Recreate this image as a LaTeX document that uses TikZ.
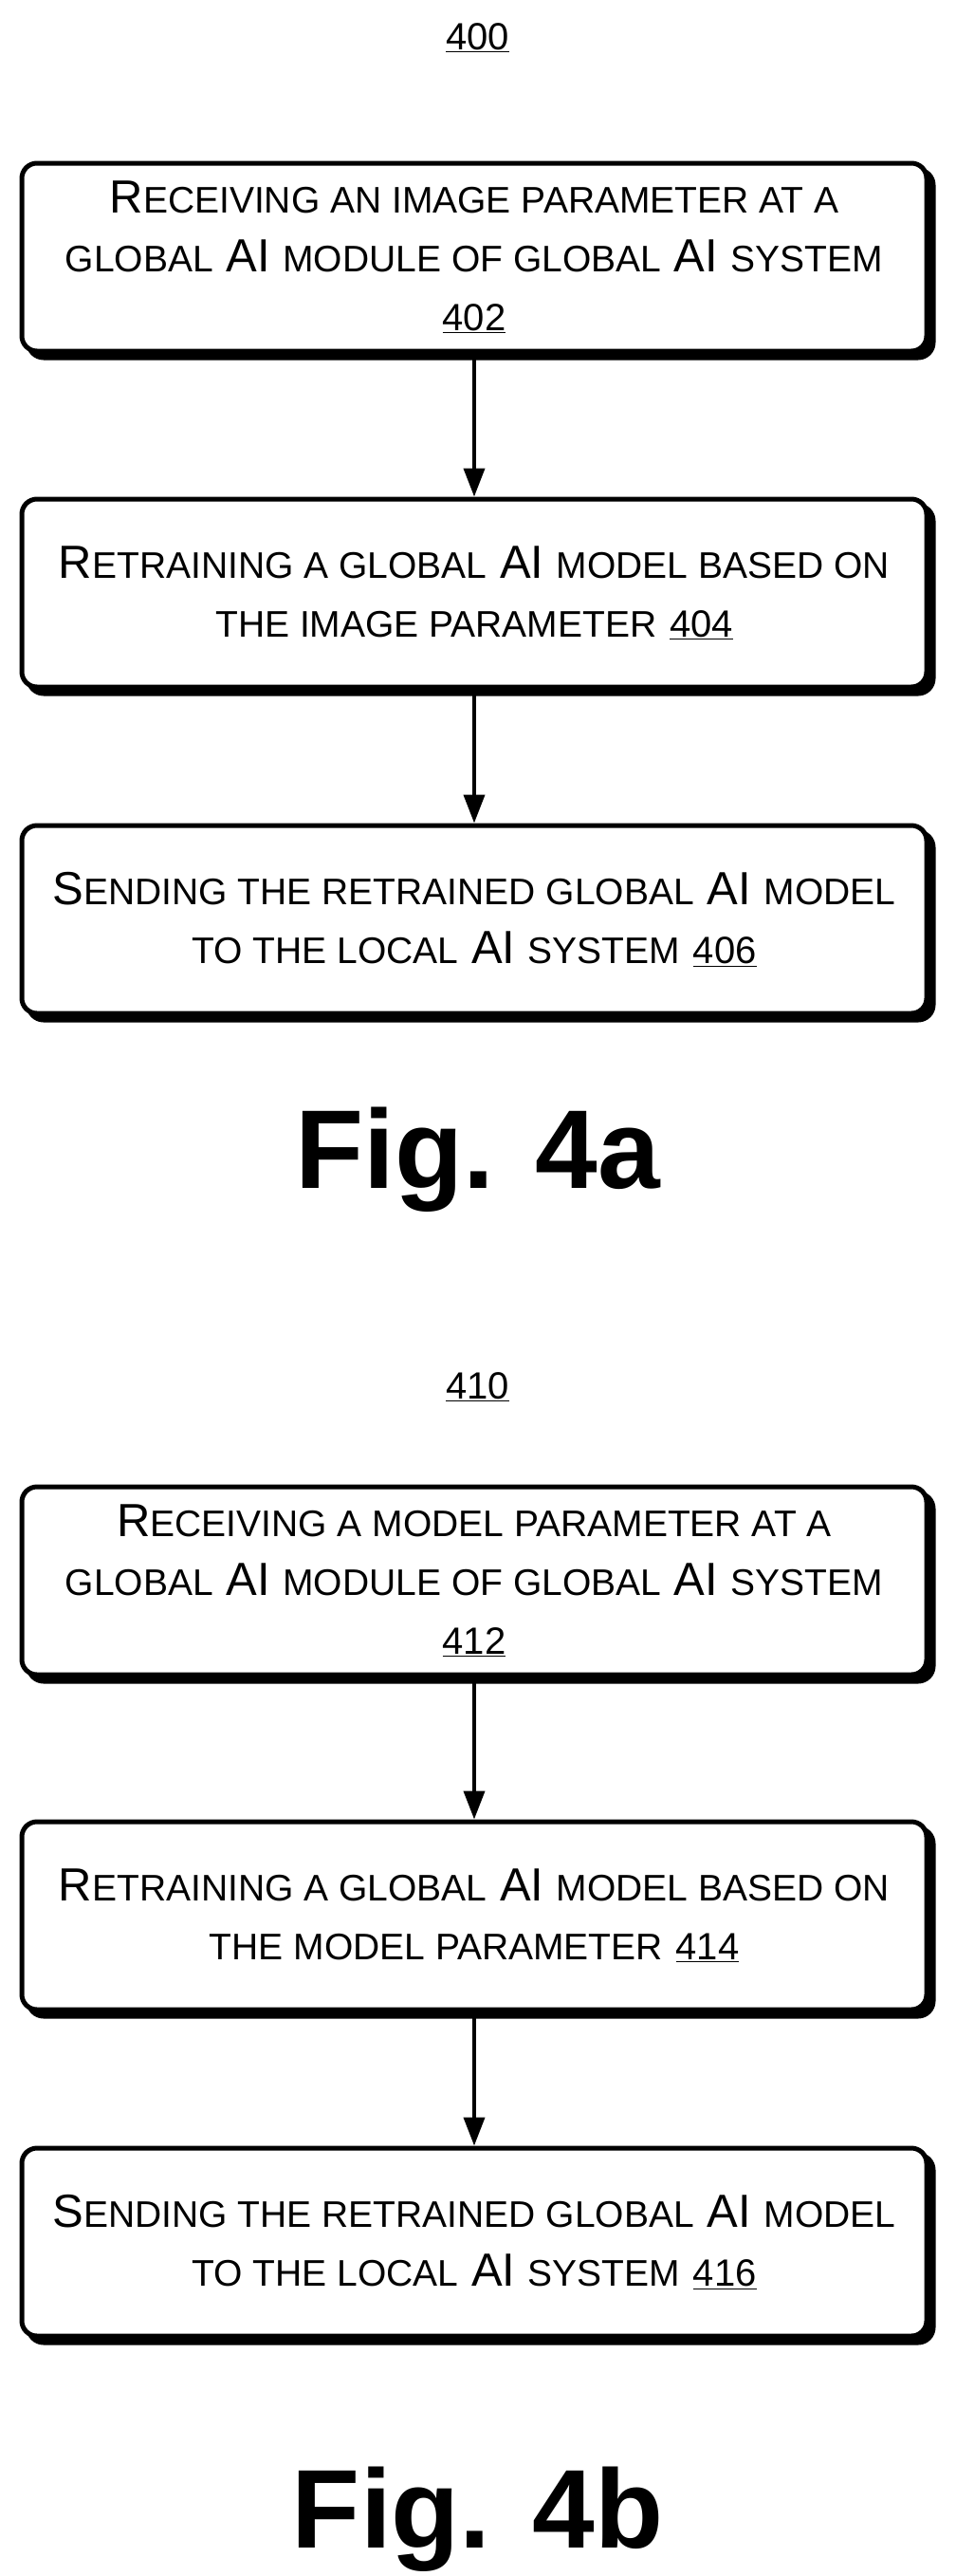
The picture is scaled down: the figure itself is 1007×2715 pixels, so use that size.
\documentclass[tikz,border=0pt]{standalone}
\usepackage{fontspec}
\setmainfont{Liberation Sans}
\usetikzlibrary{arrows.meta}
\newcommand{\sm}[1]{{\fontsize{39}{62}\selectfont #1}}
\newcommand{\num}[1]{{\fontsize{40}{62}\selectfont\underline{#1}}}
\begin{document}
\begin{tikzpicture}[x=1pt,y=1pt]
\tikzset{stepbox/.style = {draw, line width=5pt, rounded corners=16pt, fill=white,
  minimum width=954pt, minimum height=198pt, align=center,
  font=\fontsize{49}{62}\selectfont,
  preaction={fill=black, draw=black, transform canvas={shift={(7pt,-7pt)}}}}}
\tikzset{flow/.style = {-{Triangle[length=30pt,width=22pt]}, line width=4pt}}
\useasboundingbox (0,0) rectangle (1007,-2715);
%fig 4a
\node (n400) at (503.5,-40) {\num{400}};
\node[stepbox] (s402) at (500,-271) {R\sm{ECEIVING AN IMAGE PARAMETER AT A}\\\sm{GLOBAL} AI \sm{MODULE OF GLOBAL} AI \sm{SYSTEM}\\\num{402}};
\node[stepbox] (s404) at (500,-625) {R\sm{ETRAINING A GLOBAL} AI \sm{MODEL BASED ON}\\\sm{THE IMAGE PARAMETER} \num{404}};
\node[stepbox] (s406) at (500,-969) {S\sm{ENDING THE RETRAINED GLOBAL} AI \sm{MODEL}\\\sm{TO THE LOCAL} AI \sm{SYSTEM} \num{406}};
\node[font=\fontsize{118}{130}\selectfont\bfseries] (f4a) at (503.5,-1222) {Fig. 4a};
%fig 4b
\node (n410) at (503.5,-1462) {\num{410}};
\node[stepbox] (s412) at (500,-1666) {R\sm{ECEIVING A MODEL PARAMETER AT A}\\\sm{GLOBAL} AI \sm{MODULE OF GLOBAL} AI \sm{SYSTEM}\\\num{412}};
\node[stepbox] (s414) at (500,-2019) {R\sm{ETRAINING A GLOBAL} AI \sm{MODEL BASED ON}\\\sm{THE MODEL PARAMETER} \num{414}};
\node[stepbox] (s416) at (500,-2363) {S\sm{ENDING THE RETRAINED GLOBAL} AI \sm{MODEL}\\\sm{TO THE LOCAL} AI \sm{SYSTEM} \num{416}};
\node[font=\fontsize{118}{130}\selectfont\bfseries] (f4b) at (503.5,-2655) {Fig. 4b};
%arrows
\draw[flow] (s402) -- (s404);
\draw[flow] (s404) -- (s406);
\draw[flow] (s412) -- (s414);
\draw[flow] (s414) -- (s416);
\end{tikzpicture}
\end{document}
